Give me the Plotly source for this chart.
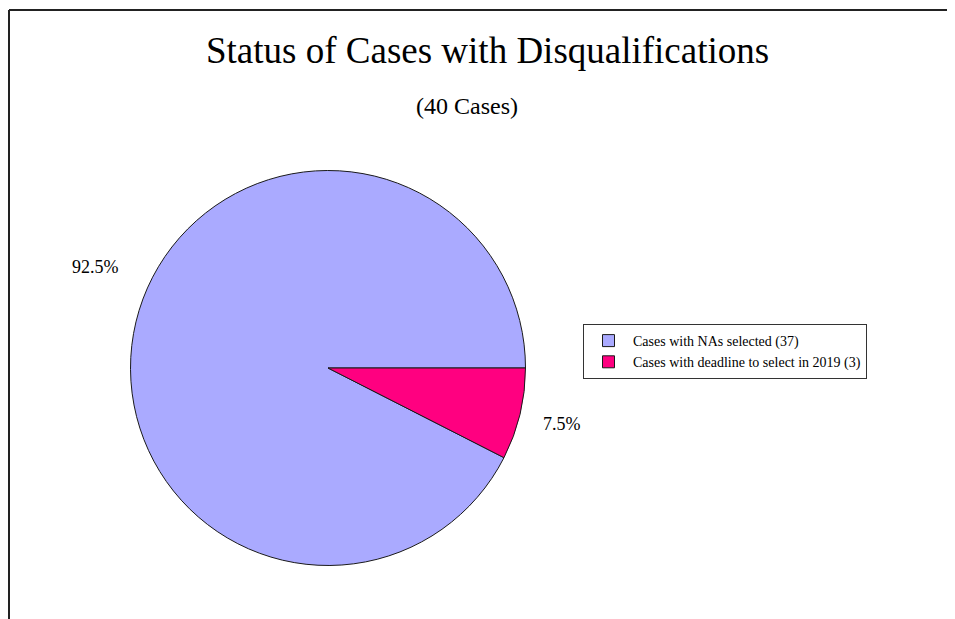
import plotly.graph_objects as go

categories = ["Cases with NAs selected (37)", "Cases with deadline to select in 2019 (3)"]
values = [37, 3]
colors = ["#AAAAFF", "#FF0080"]
title_text = "Status of Cases with Disqualifications"
subtitle_text = "(40 Cases)"

# the page adds an 8px body margin; keep the figure inside the 955x619 window
W, H = 947, 611
FONT = "Liberation Serif, Times New Roman, serif"

total = sum(values)
pcts = [f"{v / total * 100:.1f}%" for v in values]

# pie geometry in figure pixels
cx, cy, r = 320, 360, 197.5

fig = go.Figure()
fig.add_trace(go.Pie(
    labels=categories,
    values=values,
    sort=False,
    direction="clockwise",
    rotation=90 + 360 * values[1] / total,
    textinfo="none",
    hoverinfo="label+percent",
    marker=dict(colors=colors, line=dict(color="#1a1a1a", width=1)),
    domain=dict(x=[(cx - r) / W, (cx + r) / W], y=[1 - (cy + r) / H, 1 - (cy - r) / H]),
))

label_pos = [(87, 259), (554, 416)]
annotations = [
    dict(text=title_text, x=479 / W, y=1 - 42 / H, xref="paper", yref="paper",
         showarrow=False, font=dict(family=FONT, size=37, color="black"),
         xanchor="center", yanchor="middle"),
    dict(text=subtitle_text, x=459 / W, y=1 - 98 / H, xref="paper", yref="paper",
         showarrow=False, font=dict(family=FONT, size=24, color="black"),
         xanchor="center", yanchor="middle"),
]
for t, (px, py) in zip(pcts, label_pos):
    annotations.append(dict(text=t, x=px / W, y=1 - py / H, xref="paper", yref="paper",
                            showarrow=False, font=dict(family=FONT, size=18, color="black"),
                            xanchor="center", yanchor="middle"))

fig.update_layout(
    width=W, height=H,
    margin=dict(l=0, r=0, t=0, b=0),
    paper_bgcolor="white",
    plot_bgcolor="white",
    showlegend=True,
    legend=dict(
        x=575 / W, y=1 - 316 / H, xanchor="left", yanchor="top",
        bordercolor="#333333", borderwidth=1,
        font=dict(family=FONT, size=14, color="black"),
        traceorder="normal",
        itemwidth=39,
    ),
    annotations=annotations,
    shapes=[
        dict(type="line", xref="paper", yref="paper",
             x0=1 / W, x1=1.0, y0=1 - 2 / H, y1=1 - 2 / H,
             line=dict(color="#222222", width=2)),
        dict(type="line", xref="paper", yref="paper",
             x0=1 / W, x1=1 / W, y0=0, y1=1 - 2 / H,
             line=dict(color="#222222", width=2)),
    ],
)

fig.write_html("out.html")
